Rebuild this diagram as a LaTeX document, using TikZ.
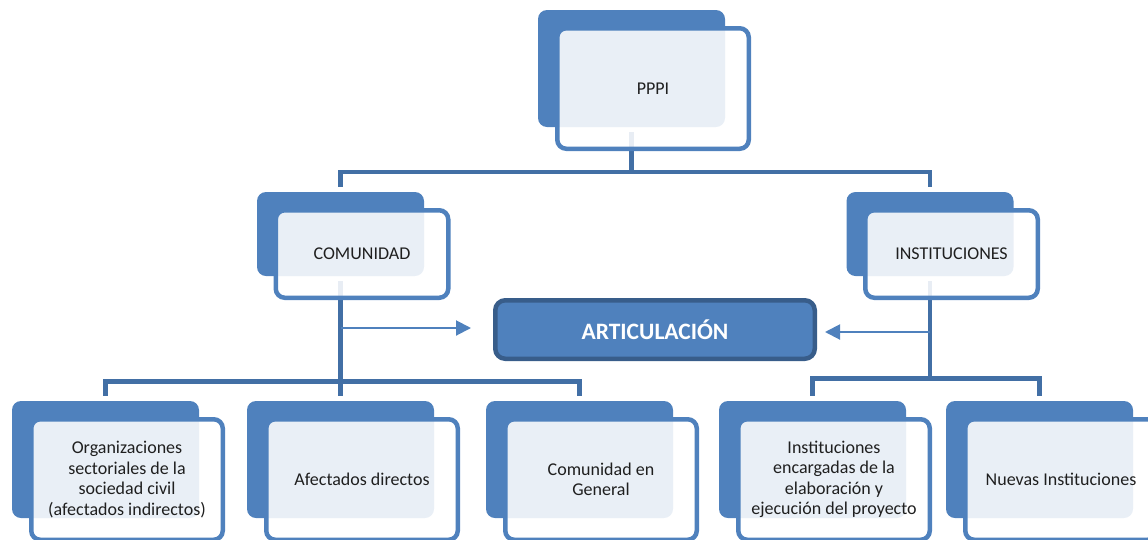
\documentclass[tikz,border=0pt]{standalone}
\usepackage{fontspec}
\setmainfont{Carlito}
\usetikzlibrary{arrows.meta}

\definecolor{boxblue}{HTML}{4F81BD}
\definecolor{lineblue}{HTML}{426FA5}
\definecolor{artborder}{HTML}{385D8A}

\pgfdeclarelayer{bg}
\pgfsetlayers{bg,main}

\tikzset{
    backbox/.style  = {fill = boxblue, rounded corners = 9pt, inner sep = 0},
    frontbox/.style = {draw = boxblue, line width = 4.5pt, fill = white, fill opacity = 0.88,
                       rounded corners = 9pt, inner sep = 0},
    bigback/.style   = {backbox, minimum width = 187pt, minimum height = 117pt},
    bigfront/.style  = {frontbox, minimum width = 191.5pt, minimum height = 120.5pt},
    midback/.style   = {backbox, minimum width = 167pt, minimum height = 84pt},
    midfront/.style  = {frontbox, minimum width = 172.5pt, minimum height = 87.5pt},
    boxtext/.style  = {align = center, inner sep = 0, text = black!88,
                       font = \fontsize{18}{20.5}\selectfont},
    artbox/.style   = {draw = artborder, line width = 4.5pt, fill = boxblue, rounded corners = 10pt,
                       minimum width = 319.5pt, minimum height = 58.5pt, inner sep = 0, text = white,
                       font = \bfseries\fontsize{23.5}{28}\selectfont},
    link/.style     = {draw = lineblue, line width = 4.5pt, shorten < = 5pt, shorten > = 5pt},
    feed/.style     = {draw = boxblue, line width = 2pt, -{Triangle[length = 15pt, width = 15pt]}},
}

\begin{document}
\begin{tikzpicture}[x = 1pt, y = -1pt]
    \useasboundingbox (0, 0) rectangle (1148, 539);

    % top
    \node [bigback]  (pppi)   at (631.5, 68.5) {};
    \node [bigfront] (pppi f) at ([shift = {(21.5, 20)}] pppi.center) {};
    \node [boxtext]  (pppi t) at (pppi f) {PPPI};

    % second level
    \node [midback]  (com)   at (340.5, 234) {};
    \node [midfront] (com f) at ([shift = {(21.5, 20)}] com.center) {};
    \node [boxtext]  (com t) at (com f) {COMUNIDAD};

    \node [midback]  (inst)   at (930, 234) {};
    \node [midfront] (inst f) at ([shift = {(21.5, 20)}] inst.center) {};
    \node [boxtext]  (inst t) at (inst f) {INSTITUCIONES};

    \node [artbox] (art) at (655, 329.5) {ARTICULACIÓN};

    % third level
    \node [bigback]  (org)   at (105.5, 459.5) {};
    \node [bigfront] (org f) at ([shift = {(21.5, 20)}] org.center) {};
    \node [boxtext]  (org t) at (org f) {Organizaciones\\sectoriales de la\\sociedad civil\\(afectados indirectos)};

    \node [bigback]  (afe)   at (340.5, 459.5) {};
    \node [bigfront] (afe f) at ([shift = {(21.5, 20)}] afe.center) {};
    \node [boxtext]  (afe t) at (afe f) {Afectados directos};

    \node [bigback]  (gen)   at (579.5, 459.5) {};
    \node [bigfront] (gen f) at ([shift = {(21.5, 20)}] gen.center) {};
    \node [boxtext]  (gen t) at (gen f) {Comunidad en\\General};

    \node [bigback]  (enc)   at (812.5, 459.5) {};
    \node [bigfront] (enc f) at ([shift = {(21.5, 20)}] enc.center) {};
    \node [boxtext]  (enc t) at (enc f) {Instituciones\\encargadas de la\\elaboración y\\ejecución del proyecto};

    \node [bigback]  (nue)   at (1039.5, 459.5) {};
    \node [bigfront] (nue f) at ([shift = {(21.5, 20)}] nue.center) {};
    \node [boxtext]  (nue t) at (nue f) {Nuevas Instituciones};

    \begin{pgfonlayer}{bg}
        % tree lines
        \draw [link] (pppi.south) -- ++(0, 45) -| (com.north);
        \draw [link] (pppi.south) -- ++(0, 45) -| (inst.north);

        \draw [link] (com.south) -- ++(0, 105.5) -| (org.north);
        \draw [link] (com.south) -- ++(0, 105.5) -| (afe.north);
        \draw [link] (com.south) -- ++(0, 105.5) -| (gen.north);

        \draw [link] (inst.south) -- ++(0, 102.5) -| (enc.north);
        \draw [link] (inst.south) -- ++(0, 102.5) -| (nue.north);

        % into ARTICULACIÓN
        \coordinate (com a)  at (com.south |- art.west);
        \coordinate (inst a) at (inst.south |- art.east);
        \draw [feed, shorten > = 22pt] ([yshift = 1.5pt] com a) -- ([yshift = 1.5pt] art.west);
        \draw [feed, shorten > = 8pt]  ([yshift = -2.5pt] inst a) -- ([yshift = -2.5pt] art.east);
    \end{pgfonlayer}
\end{tikzpicture}
\end{document}
